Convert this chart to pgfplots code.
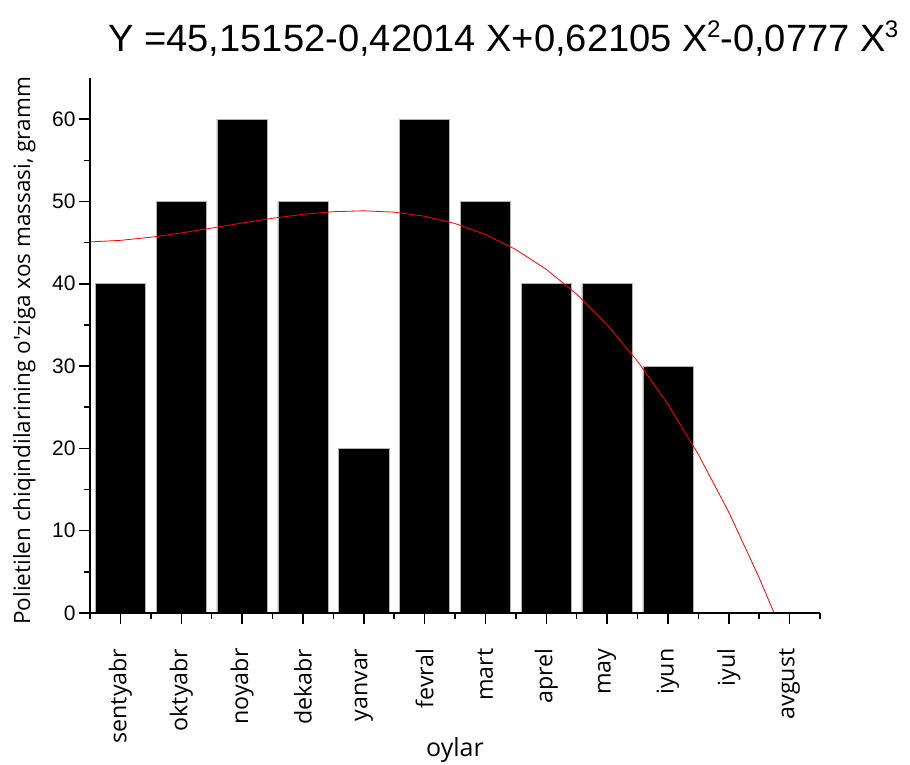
\documentclass[border=0pt]{standalone}
\usepackage{fontspec}
\usepackage{graphicx}
\usepackage{pgfplots}
\pgfplotsset{compat=1.18}
\setmainfont{Liberation Sans}
\newfontfamily\arial{Liberation Sans}
\newfontfamily\lblfont{Open Sans}
\newcommand{\supx}[1]{\kern-1pt\raisebox{14pt}{\fontsize{24}{24}\selectfont #1}}
\begin{document}
\begin{tikzpicture}
\useasboundingbox (0,0) rectangle (910pt,764pt);
\begin{axis}[
  scale only axis, width=730pt, height=535pt,
  at={(90pt,151pt)}, anchor=south west,
  xmin=0.5, xmax=12.5, ymin=0, ymax=65,
  axis x line*=bottom, axis y line*=left,
  axis on top,
  xtick={1,...,12},
  xticklabels={sentyabr,oktyabr,noyabr,dekabr,yanvar,fevral,mart,aprel,may,iyun,iyul,avgust},
  minor xtick={0.5,1.5,...,12.5},
  ytick={0,10,...,60}, minor ytick={5,15,...,55},
  tick align=outside,
  major tick length=11pt, minor tick length=6pt,
  every tick/.style={black, line width=1.5pt},
  axis line style={black, line width=1.5pt},
  /pgf/number format/assume math mode=true,
  yticklabel style={font=\arial\fontsize{21}{21}\selectfont},
  xticklabel style={font=\lblfont\fontsize{23.2}{23.2}\selectfont, rotate=90, anchor=east},
  xticklabel shift=21pt,
  xlabel={oylar},
  xlabel style={font=\lblfont\fontsize{25}{25}\selectfont, at={(axis description cs:0.5,-0.269)}, anchor=base},
  ylabel={Polietilen chiqindilarining o'ziga xos massasi, gramm},
  ylabel style={font=\lblfont\fontsize{22.5}{22.5}\selectfont, at={(axis description cs:-0.09,0.49)}, anchor=center},
  clip=true,
]
\addplot[ybar, bar width=0.825, fill=black, draw=gray!60, line width=0.6pt]
  coordinates {(1,40) (2,50) (3,60) (4,50) (5,20) (6,60) (7,50) (8,40) (9,40) (10,30) (11,0) (12,0)};
\addplot[red, line width=0.8pt, no marks] coordinates {
  (0.5,45.0870) (1,45.2747) (1.5,45.6564) (2,46.1738) (2.5,46.7687) (3,47.3827)
  (3.5,47.9575) (4,48.4350) (4.5,48.7567) (5,48.8646) (5.5,48.7002) (6,48.2053)
  (6.5,47.3216) (7,45.9909) (7.5,44.1549) (8,41.7552) (8.5,38.7337) (9,35.0320)
  (9.5,30.5919) (10,25.3551) (10.5,19.2634) (11,12.2583) (11.5,4.2818) (11.745,0)
};
\end{axis}
\node[anchor=base west, inner sep=0pt, font=\arial\fontsize{38}{38}\selectfont] at (108pt,712pt)
  {\resizebox{790pt}{\height}{Y =45,15152-0,42014 X+0,62105 X\supx{2}-0,0777 X\supx{3}}};
\end{tikzpicture}
\end{document}
